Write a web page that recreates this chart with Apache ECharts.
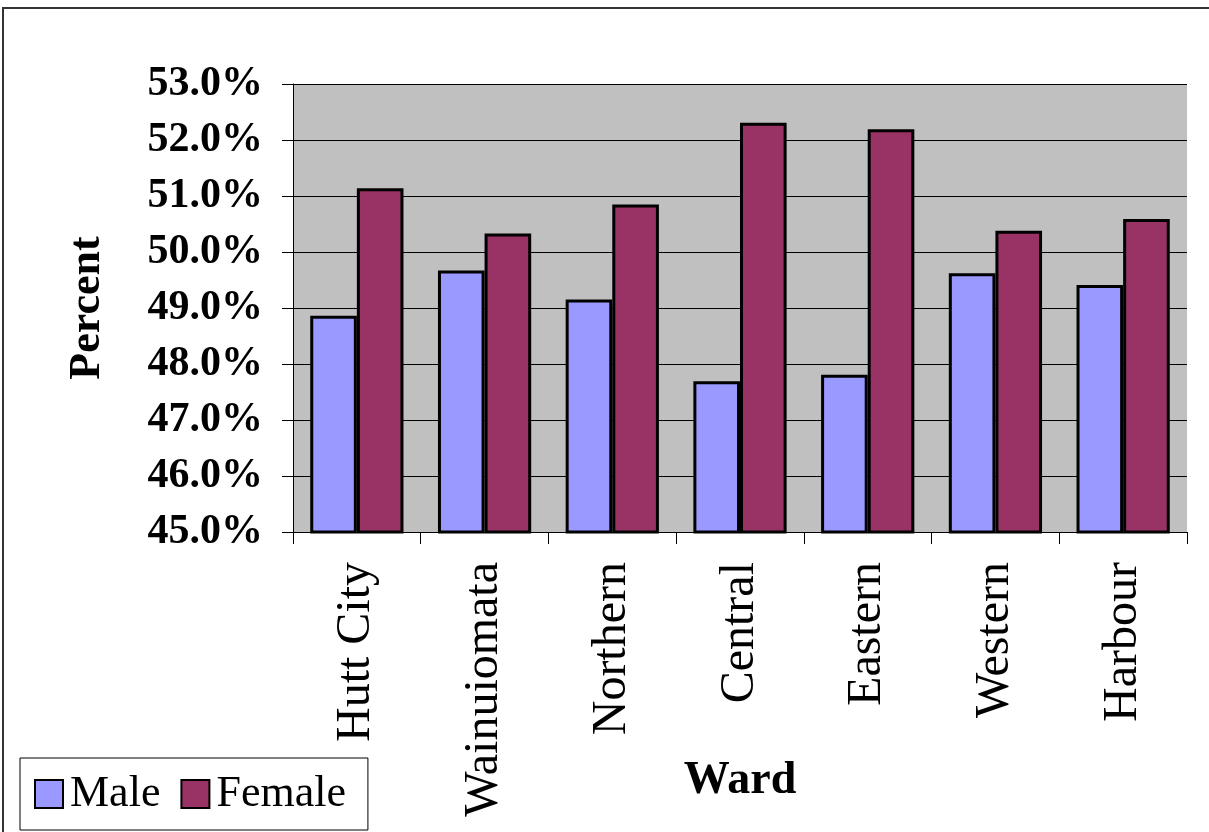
<!DOCTYPE html>
<html>
<head>
<meta charset="utf-8">
<style>
  html, body { margin: 0; padding: 0; background: #fff; }
  #chart { width: 1209px; height: 832px; }
</style>
<script src="https://cdn.jsdelivr.net/npm/echarts@6/dist/echarts.min.js"></script>
</head>
<body>
<div id="chart"></div>
<script>
// ward gender split, percent
var wards = ['Hutt City', 'Wainuiomata', 'Northern', 'Central', 'Eastern', 'Western', 'Harbour']
var male = [48.86, 49.67, 49.15, 47.69, 47.81, 49.62, 49.41]
var female = [51.14, 50.33, 50.85, 52.31, 52.19, 50.38, 50.59]
var yTicks = [45, 46, 47, 48, 49, 50, 51, 52, 53]

var serif = '"Liberation Serif", "Times New Roman", serif'

var chart = echarts.init(document.getElementById('chart'))
var option = {
  animation: false,
  backgroundColor: '#fff',
  textStyle: { fontFamily: serif, color: '#000' },
  grid: {
    left: 293,
    right: 22,
    top: 84,
    bottom: 300,
    containLabel: false,
    outerBoundsMode: 'none',
    show: true,
    backgroundColor: '#c0c0c0',
    borderWidth: 0
  },
  graphic: [
    {
      // outer frame of the chart area
      type: 'rect',
      shape: { x: 3, y: 8, width: 1240, height: 900 },
      style: { fill: 'none', stroke: '#333', lineWidth: 2 },
      silent: true
    }
  ],
  legend: {
    left: 20,
    top: 758,
    orient: 'horizontal',
    padding: [14, 22, 14, 14],
    borderColor: '#000',
    borderWidth: 1,
    backgroundColor: '#fff',
    itemWidth: 28,
    itemHeight: 28,
    itemGap: 20,
    icon: 'rect',
    textStyle: { fontFamily: serif, fontSize: 44, color: '#000', padding: [0, 0, 0, 2] },
    data: ['Male', 'Female']
  },
  xAxis: {
    type: 'category',
    data: wards,
    name: 'Ward',
    nameLocation: 'middle',
    nameGap: 226,
    nameMoveOverlap: false,
    nameTextStyle: { fontFamily: serif, fontSize: 46, fontWeight: 'bold', color: '#000' },
    axisLine: { show: true, lineStyle: { color: '#000', width: 1 } },
    axisTick: { show: true, length: 12, lineStyle: { color: '#000' } },
    axisLabel: {
      interval: 0,
      rotate: 90,
      margin: 30,
      fontFamily: serif,
      fontSize: 48,
      color: '#000'
    }
  },
  yAxis: {
    type: 'value',
    min: yTicks[0],
    max: yTicks[yTicks.length - 1],
    interval: 1,
    name: 'Percent',
    nameLocation: 'middle',
    nameRotate: 90,
    nameGap: 183,
    nameMoveOverlap: false,
    nameTextStyle: { fontFamily: serif, fontSize: 44, fontWeight: 'bold', color: '#000' },
    axisLine: { show: true, lineStyle: { color: '#000', width: 1 } },
    axisTick: { show: true, length: 11, lineStyle: { color: '#000' } },
    splitLine: { show: true, lineStyle: { color: '#000', width: 1 } },
    axisLabel: {
      margin: 30,
      fontFamily: serif,
      fontSize: 42,
      fontWeight: 'bold',
      color: '#000',
      formatter: function (v) { return v.toFixed(1) + '%' }
    }
  },
  series: [
    {
      name: 'Male',
      type: 'bar',
      data: male,
      barGap: '0%',
      barCategoryGap: '27%',
      itemStyle: { color: '#9999ff', borderColor: '#000', borderWidth: 3 }
    },
    {
      name: 'Female',
      type: 'bar',
      data: female,
      itemStyle: { color: '#993366', borderColor: '#000', borderWidth: 3 }
    }
  ]
}
chart.setOption(option)
</script>
</body>
</html>
